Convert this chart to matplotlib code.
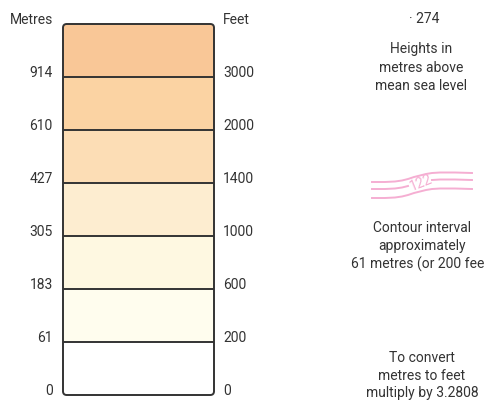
import numpy as np
import matplotlib.pyplot as plt
from matplotlib.patches import FancyBboxPatch

plt.rcParams['font.family'] = ['Roboto', 'DejaVu Sans']
plt.rcParams['font.size'] = 10

# layer table, bottom to top
metres = ['0', '61', '183', '305', '427', '610', '914']
feet = ['0', '200', '600', '1000', '1400', '2000', '3000']
band_colors = ['#FFFFFF', '#FFFDEE', '#FEF8E1', '#FDEDD0', '#FCDDB5', '#FBD3A3', '#F9C797']

spot_label = '\u00b7 274'
heights_note = ['Heights in', 'metres above', 'mean sea level']
contour_note = ['Contour interval', 'approximately', '61 metres (or 200 feet)']
convert_note = ['To convert', 'metres to feet', 'multiply by 3.2808']
contour_value = '122'

# contour sample (pixel space)
cont_x = [372, 385, 395, 402, 408, 414, 420, 426, 432, 440, 455, 472]
cont_rise = [0, 0, 0.5, 1.5, 3, 5, 6.5, 8, 9, 9.5, 9.5, 9]
cont_base = [182, 189, 198]

text_col = '#333333'
edge_col = '#333333'
pink = '#F5AED2'

W, H = 485, 401
fig = plt.figure(figsize=(W / 100, H / 100), dpi=100)

# colour bar
ax = fig.add_axes([63 / W, (H - 395) / H, 151 / W, 371 / H])
n = len(band_colors)
frame = FancyBboxPatch((0, 0), 1, 1, boxstyle='round,pad=0,rounding_size=0.025',
                       mutation_aspect=151 / 371, transform=ax.transAxes,
                       facecolor='none', edgecolor=edge_col, lw=1.4, clip_on=False, zorder=5)
ax.add_patch(frame)
bars = ax.bar(0.5, 1, width=1, bottom=np.arange(n), color=band_colors, lw=0)
for b in bars:
    b.set_clip_path(frame)
ax.hlines(np.arange(1, n), 0, 1, color=edge_col, lw=1.4, zorder=4)
ax.set_xlim(0, 1)
ax.set_ylim(0, n)
ax.set_xticks([])
for s in ax.spines.values():
    s.set_visible(False)

ax.set_yticks(np.arange(n + 1), metres + ['Metres'])
ax.tick_params(axis='y', length=0, pad=7.3, colors=text_col, labelsize=10)
for lab in ax.get_yticklabels():
    lab.set_verticalalignment('baseline')

ax2 = ax.twinx()
ax2.set_ylim(0, n)
for s in ax2.spines.values():
    s.set_visible(False)
ax2.set_yticks(np.arange(n + 1), feet + ['Feet'])
ax2.tick_params(axis='y', length=0, pad=6.5, colors=text_col, labelsize=10)
for lab in ax2.get_yticklabels():
    lab.set_verticalalignment('baseline')

# notes on the right, in pixel space
ov = fig.add_axes([0, 0, 1, 1])
ov.set_xlim(0, W)
ov.set_ylim(H, 0)
ov.axis('off')
ov.patch.set_alpha(0)

ov.text(424, 23, spot_label, ha='center', va='baseline', color=text_col, fontsize=10)
for i, line in enumerate(heights_note):
    ov.text(421, 53 + i * 18.5, line, ha='center', va='baseline', color=text_col, fontsize=10)
for i, line in enumerate(contour_note):
    ov.text(422, 232 + i * 18.2, line, ha='center', va='baseline', color=text_col, fontsize=10)
for i, line in enumerate(convert_note):
    ov.text(422, 362 + i * 17.5, line, ha='center', va='baseline', color=text_col, fontsize=10)

cx = np.array(cont_x)
cr = np.array(cont_rise)
for k, base in enumerate(cont_base):
    y = base - cr
    if k == 1:
        left = cx <= 408
        right = cx >= 432
        ov.plot(cx[left], y[left], color=pink, lw=1.4)
        ov.plot(cx[right], y[right], color=pink, lw=1.4)
    else:
        ov.plot(cx, y, color=pink, lw=1.4)
ov.text(421, 183, contour_value, ha='center', va='center', rotation=22,
        color=pink, fontsize=10)

fig.savefig('out.png', dpi=100)
